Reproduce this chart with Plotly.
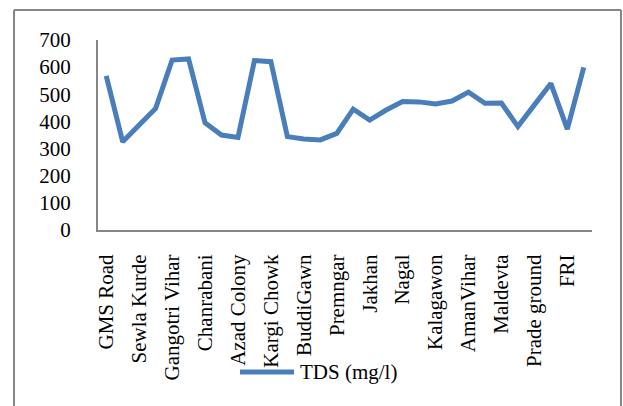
import plotly.graph_objects as go

# Sampling sites (30); only every other site name is labelled on the axis
site_index = list(range(30))
tick_labels = ["GMS Road", "Sewla Kurde", "Gangotri Vihar", "Chanrabani", "Azad Colony",
               "Kargi Chowk", "BuddiGawn", "Premngar", "Jakhan", "Nagal", "Kalagawon",
               "AmanVihar", "Maldevta", "Prade ground", "FRI"]
tick_positions = site_index[::2]
tds_values = [568, 325, 387, 448, 626, 630, 395, 350, 341, 624,
              620, 344, 335, 332, 356, 445, 405, 442, 473, 472,
              464, 475, 508, 467, 468, 381, 461, 540, 372, 599]
y_ticks = [0, 100, 200, 300, 400, 500, 600, 700]
series_name = "TDS (mg/l)"

FONT = "Liberation Serif, Times New Roman, serif"
FS = 21
BLUE = "#4a7ebb"
GRAY = "#868686"

fig = go.Figure()
fig.add_trace(go.Scatter(x=site_index, y=tds_values, mode="lines", name=series_name,
                         line=dict(color=BLUE, width=5), showlegend=False))

border = dict(color=GRAY, width=2)
fig.update_layout(
    width=623, height=406,
    margin=dict(l=98, r=31, t=40, b=176),
    paper_bgcolor="white", plot_bgcolor="white",
    font=dict(family=FONT, size=FS, color="black"),
    xaxis=dict(range=[-0.5, 29.5], tickmode="array", tickvals=tick_positions,
               ticktext=tick_labels, tickangle=-90, showgrid=False, zeroline=False,
               showline=True, linecolor=GRAY, linewidth=2, ticks="",
               ticklabelstandoff=14, tickfont=dict(size=FS, family=FONT)),
    yaxis=dict(range=[0, 700], tickmode="array", tickvals=y_ticks, showgrid=False,
               zeroline=False, showline=True, linecolor=GRAY, linewidth=2, ticks="",
               ticklabelstandoff=21, tickfont=dict(size=FS, family=FONT)),
    shapes=[
        dict(type="line", xref="paper", yref="paper", x0=-0.170, x1=1.0587, y0=1.158, y1=1.158, line=border),
        dict(type="line", xref="paper", yref="paper", x0=-0.170, x1=-0.170, y0=-1.0, y1=1.158, line=border),
        dict(type="line", xref="paper", yref="paper", x0=1.0587, x1=1.0587, y0=-1.0, y1=1.158, line=border),
        dict(type="line", xref="paper", yref="paper", x0=0.2874, x1=0.3968, y0=-0.747, y1=-0.747,
             line=dict(color=BLUE, width=5)),
    ],
    annotations=[
        dict(xref="paper", yref="paper", x=0.4049, y=-0.747, xanchor="left", yanchor="middle",
             text=series_name, showarrow=False, font=dict(size=FS, family=FONT, color="black")),
    ],
)

fig.write_html("out.html", config={"displayModeBar": False},
               post_script="document.body.style.margin='0';")
